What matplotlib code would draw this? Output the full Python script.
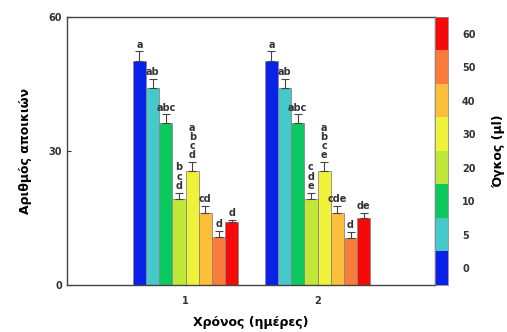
import numpy as np
import matplotlib.pyplot as plt
from matplotlib.colors import ListedColormap, BoundaryNorm
import matplotlib.colorbar as mcolorbar

days = [1, 2]
volumes = ['0', '5', '10', '20', '30', '40', '50', '60']
colors = ['#0a22e8', '#45c9cb', '#0bc95e', '#bfe83a', '#f0f23a', '#fbbf3a', '#fa7b3a', '#f50a0a']

day1 = [50.2, 44.1, 36.2, 19.2, 25.5, 16.2, 10.7, 14.1]
day1_err = [2.1, 2.1, 2.0, 1.5, 2.0, 1.5, 1.4, 0.4]
day2 = [50.2, 44.1, 36.2, 19.2, 25.5, 16.2, 10.6, 14.9]
day2_err = [2.1, 2.1, 2.0, 1.5, 2.0, 1.5, 1.3, 1.3]

day1_letters = ['a', 'ab', 'abc', 'b\nc\nd', 'a\nb\nc\nd', 'cd', 'd', 'd']
day2_letters = ['a', 'ab', 'abc', 'c\nd\ne', 'a\nb\nc\ne', 'cde', 'd', 'de']

fig = plt.figure(figsize=(5.07, 3.32), dpi=100)
ax = fig.add_axes([0.132, 0.1416, 0.726, 0.8072])

width = 0.1
n = len(volumes)
for d, vals, errs, letters in [(1, day1, day1_err, day1_letters), (2, day2, day2_err, day2_letters)]:
    for i in range(n):
        x = d + (i - (n - 1) / 2) * width
        ax.bar(x, vals[i], width=width, color=colors[i], edgecolor='#888888', linewidth=0.6)
        ax.errorbar(x, vals[i], yerr=[[0], [errs[i]]], color='#444444', capsize=3,
                    elinewidth=0.8, capthick=0.8)
        ax.text(x, vals[i] + errs[i] + 0.4, letters[i], ha='center', va='bottom',
                fontsize=7, fontweight='bold', color='#333333', linespacing=0.9)

ax.set_xlim(0.1, 2.89)
ax.set_ylim(0, 60)
ax.set_yticks([0, 30, 60])
ax.set_xticks(days)
ax.tick_params(direction='in', labelsize=7, length=3, colors='#333333')
for lab in ax.get_xticklabels() + ax.get_yticklabels():
    lab.set_fontweight('bold')
ax.tick_params(axis='x', length=0, pad=8)
for s in ax.spines.values():
    s.set_color('#444444')
    s.set_linewidth(1.0)

ax.set_ylabel('Αριθμός αποικιών', fontsize=9, fontweight='bold', labelpad=12)
ax.set_xlabel('Χρόνος (ημέρες)', fontsize=9, fontweight='bold', labelpad=7)

cax = fig.add_axes([0.858, 0.1416, 0.026, 0.8072])
cmap = ListedColormap(colors)
norm = BoundaryNorm(np.arange(n + 1), n)
cb = mcolorbar.ColorbarBase(cax, cmap=cmap, norm=norm, orientation='vertical')
cb.set_ticks(np.arange(n) + 0.5)
cb.set_ticklabels(volumes)
cax.minorticks_off()
cb.outline.set_edgecolor('#888888')
cb.outline.set_linewidth(0.6)
cax.tick_params(length=0, labelsize=7, pad=10, colors='#333333')
for lab in cax.get_yticklabels():
    lab.set_fontweight('bold')
cb.set_label('Όγκος (μl)', fontsize=9, fontweight='bold', rotation=90, labelpad=12)

fig.savefig('out.png', dpi=100)
